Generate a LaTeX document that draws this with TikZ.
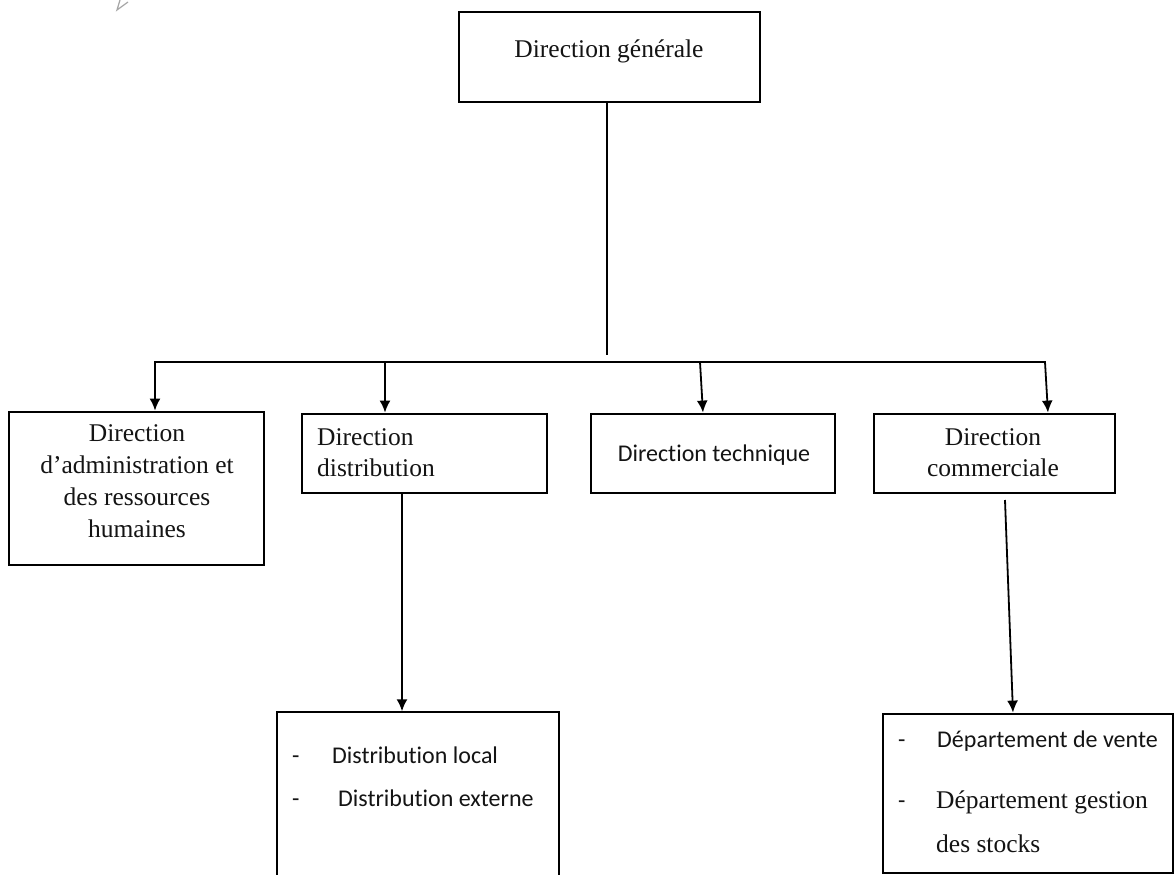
\documentclass[tikz,border=0pt]{standalone}
\usepackage{fontspec}
\setmainfont{Liberation Serif}
\newfontfamily\serifF{Liberation Serif}
\newfontfamily\sansF[Ligatures=NoCommon]{Carlito}
\usetikzlibrary{arrows.meta}
\definecolor{ink}{HTML}{141414}
\tikzset{
  box/.style={draw=black, line width=1.8pt, inner sep=0pt, fill=white},
  ser/.style={inner sep=0pt, text=ink, font=\serifF\fontsize{25.5}{32}\selectfont},
  san/.style={inner sep=0pt, text=ink, font=\sansF\fontsize{24}{30}\selectfont},
  link/.style={draw=black, line width=1.8pt},
  arr/.style={link, -{Latex[length=12pt,width=11pt]}, shorten >=0.5pt}
}
\begin{document}
\begin{tikzpicture}[x=1pt,y=-1pt]
\useasboundingbox (0,0) rectangle (1176,875);
\fill[white] (0,0) rectangle (1176,875);
% small artefact top-left
\draw[gray!70, line width=1.2pt] (120,0) -- (117,10) -- (128,2);
% boxes
\node[box, minimum width=301pt, minimum height=90pt] (top) at (609.5,57) {};
\node[box, minimum width=255pt, minimum height=153pt] (b1) at (136.5,488.5) {};
\node[box, minimum width=245pt, minimum height=79pt] (b2) at (424.5,453.5) {};
\node[box, minimum width=244pt, minimum height=79pt] (b3) at (713,453.5) {};
\node[box, minimum width=241pt, minimum height=79pt] (b4) at (994.5,453.5) {};
\node[inner sep=0pt, minimum width=282pt, minimum height=163pt] (b5) at (418,793.5) {};
\draw[line width=1.8pt] (b5.south west) -- (b5.north west) -- (b5.north east) -- (b5.south east);
\node[box, minimum width=290pt, minimum height=159pt] (b6) at (1028,793.5) {};
% texts
\node[ser, anchor=base] (t0) at (609,58) {Direction générale};
\node[ser, anchor=base] (t1a) at (137,441) {Direction};
\node[ser, anchor=base] (t1b) at (137,473) {d’administration et};
\node[ser, anchor=base] (t1c) at (137,505) {des ressources};
\node[ser, anchor=base] (t1d) at (137,537) {humaines};
\node[ser, anchor=base west] (t2a) at (317,445) {Direction};
\node[ser, anchor=base west] (t2b) at (317,476) {distribution};
\node[san, anchor=base] (t3) at (714,461) {Direction technique};
\node[ser, anchor=base] (t4a) at (993,445) {Direction};
\node[ser, anchor=base] (t4b) at (993,476) {commerciale};
\node[san, anchor=base west] (d5a) at (292,763) {-};
\node[san, anchor=base west] (t5a) at (332,763) {Distribution local};
\node[san, anchor=base west] (d5b) at (292,806) {-};
\node[san, anchor=base west] (t5b) at (338,806) {Distribution externe};
\node[san, anchor=base west] (d6a) at (898,747) {-};
\node[san, anchor=base west] (t6a) at (937,747) {Département de vente};
\node[san, anchor=base west] (d6b) at (898,808) {-};
\node[ser, anchor=base west] (t6b) at (936,808) {Département gestion};
\node[ser, anchor=base west] (t6c) at (936,852) {des stocks};
% connectors
\coordinate (j) at (607,355);
\coordinate (hl) at (155,362);
\coordinate (h2) at (385,362);
\coordinate (h3) at (700,362);
\coordinate (hr) at (1045,362);
\coordinate (s4) at (1005,500);
\draw[link] (top.south -| j) -- (j);
\draw[link] ([xshift=-0.9pt]hl) -- ([xshift=0.9pt]hr);
\draw[arr] (hl) -- (b1.north -| hl);
\draw[arr] (h2) -- (b2.north -| h2);
\draw[arr] (h3) -- ([xshift=3pt]b3.north -| h3);
\draw[arr] (hr) -- ([xshift=3pt]b4.north -| hr);
\draw[arr] (b2.south -| 402,0) -- (b5.north -| 402,0);
\draw[arr] (s4) -- ([xshift=8pt]b6.north -| s4);
\end{tikzpicture}
\end{document}
